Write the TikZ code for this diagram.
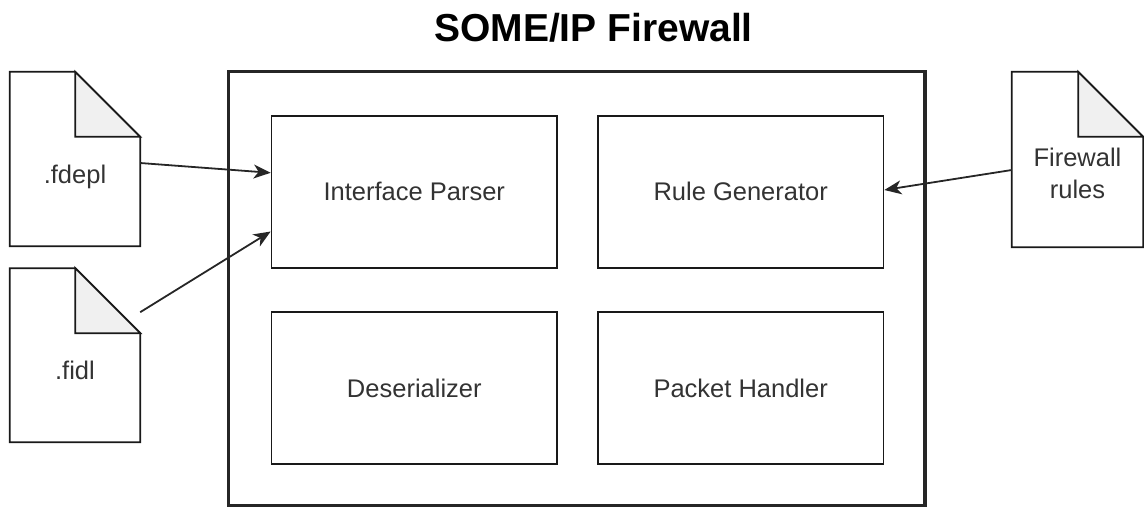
\documentclass[tikz,border=0pt]{standalone}
\usepackage{fontspec}
\setmainfont{Liberation Sans}
\usetikzlibrary{arrows.meta,calc}

% folded-corner document outline around a node
\newcommand\docoutline[1]{%
  \draw[docline] (#1.north west) -- ($(#1.north east)+(-65,0)$)
    -- ($(#1.north east)+(0,65)$) -- (#1.south east) -- (#1.south west) -- cycle;
  \filldraw[docline, fill=gray!12] ($(#1.north east)+(-65,0)$)
    -- ($(#1.north east)+(-65,65)$) -- ($(#1.north east)+(0,65)$) -- cycle;
}

\begin{document}
\begin{tikzpicture}[x=1pt,y=-1pt,
  box/.style={draw=black!90, line width=1.8pt, minimum width=285.5pt,
    minimum height=152pt, inner sep=0pt, text=black!80,
    font=\fontsize{25.5}{30}\selectfont},
  docshape/.style={minimum width=130pt, minimum height=174pt, inner sep=0pt},
  docline/.style={draw=black!90, line width=1.8pt, line join=miter},
  doctext/.style={text=black!80, font=\fontsize{25.5}{32}\selectfont, align=center},
  flow/.style={draw=black!85, line width=1.8pt,
    -{Stealth[length=17pt,width=14pt,inset=5pt]}},
]
\useasboundingbox (0,0) rectangle (1144,507);

% title
\node[font=\bfseries\fontsize{39}{40}\selectfont, anchor=base] (title)
  at (593.5,41.7) {SOME/IP Firewall};

% firewall frame and its components
\node[draw=black!85, line width=3.5pt, minimum width=696.7pt,
  minimum height=434pt, inner sep=0pt] (frame) at (576.6,288.7) {};
\node[box] (ip) at (414.3,191.8) {Interface Parser};
\node[box] (rg) at (740.7,191.8) {Rule Generator};
\node[box] (ds) at (414.3,387.9) {Deserializer};
\node[box] (ph) at (740.7,387.9) {Packet Handler};

% input documents
\node[docshape] (fdepl) at (75,159) {};
\node[docshape, minimum height=173.7pt] (fidl) at (75,355.2) {};
\node[docshape, minimum width=131pt, minimum height=175pt] (fwr) at (1077.5,159.5) {};
\docoutline{fdepl}
\docoutline{fidl}
\docoutline{fwr}
\node[doctext, anchor=base] (fdepl-t) at ([yshift=-112]fdepl.north) {.fdepl};
\node[doctext, anchor=base] (fidl-t) at ([yshift=-111]fidl.north) {.fidl};
\node[doctext] (fwr-t) at ([yshift=-13.5]fwr.center) {Firewall\\rules};

% data flow
\draw[flow] ([yshift=-4]fdepl.east) -- ([yshift=19]ip.west);
\draw[flow] ([yshift=43]fidl.east) -- ([yshift=-39.7]ip.west);
\draw[flow] ([yshift=-10.5]fwr.west) -- ([yshift=1.8]rg.east);
\end{tikzpicture}
\end{document}
